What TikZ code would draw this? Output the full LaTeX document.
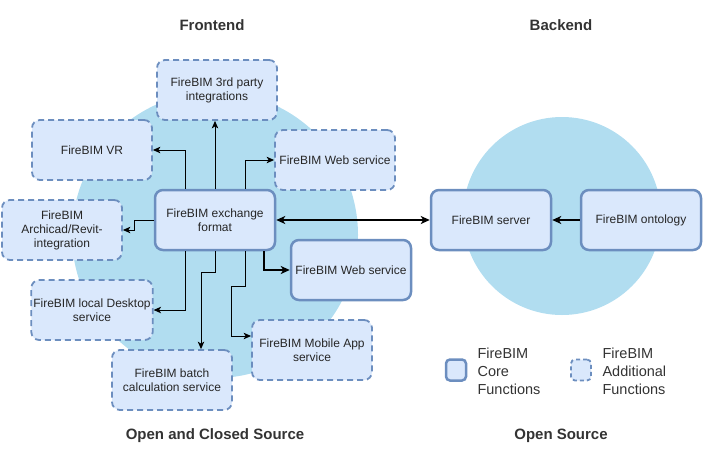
\documentclass[tikz,border=0pt]{standalone}
\usepackage{fontspec}
\setmainfont{Liberation Sans}
\usetikzlibrary{arrows.meta}
\definecolor{boxfill}{HTML}{DAE8FC}
\definecolor{boxline}{HTML}{6C8EBF}
\definecolor{zone}{HTML}{B1DDF0}
\begin{document}
\begin{tikzpicture}[
        x=1pt, y=-1pt,
        core/.style={draw=boxline, fill=boxfill, line width=2.5pt, rounded corners=8pt, minimum width=120pt, minimum height=60pt, align=center, inner sep=2pt, text=black!85, font=\fontsize{12}{14}\selectfont}, % Core box styling
        extra/.style={core, line width=1.8pt, dash pattern=on 6pt off 4pt}, % Additional box styling
        heading/.style={font=\fontsize{15}{18}\selectfont\bfseries, text=black!80}, % Titles
        legendtext/.style={anchor=west, align=left, text=black!80, font=\fontsize{14.5}{18}\selectfont},
        smalltip/.tip={Stealth[length=7.5pt, width=6.5pt, inset=2pt]},
        bigtip/.tip={Stealth[length=9pt, width=8pt, inset=2.5pt]},
        link/.style={-smalltip, line width=1pt}, % Arrow styling
        biglink/.style={-bigtip, line width=1.8pt}
        ]
        \useasboundingbox (0,0) rectangle (703,461);

        % Background zones
        \fill[zone] (215,235) circle (143pt);
        \fill[zone] (562,216) circle (99pt);

        % Define nodes
        \node (party) [extra] at (217,90) {FireBIM 3rd party\\integrations};
        \node (vr) [extra] at (92,150) {FireBIM VR};
        \node (webtop) [extra] at (335,160) {FireBIM Web service};
        \node (exchange) [core] at (215,220) {FireBIM exchange\\format};
        \node (archicad) [extra] at (62,230) {FireBIM\\Archicad/Revit-\\integration};
        \node (web) [core] at (351,270) {FireBIM Web service};
        \node (desktop) [extra] at (92,310) {FireBIM local Desktop\\service};
        \node (batch) [extra] at (172,380) {FireBIM batch\\calculation service};
        \node (mobile) [extra] at (312,350) {FireBIM Mobile App\\service};
        \node (server) [core] at (491,220) {FireBIM server};
        \node (ontology) [core] at (641,220) {FireBIM ontology};

        % Draw arrows
        \draw[link] ([xshift=-30pt]exchange.north) |- (vr.east);
        \draw[link] (exchange.north) -- (exchange.north |- party.south);
        \draw[link] ([xshift=30pt]exchange.north) |- (webtop.west);
        \draw[link] (exchange.west) -- ++(-19,0) |- (archicad.east);
        \draw[link] ([xshift=-30pt]exchange.south) |- (desktop.east);
        \draw[link] (exchange.south) -- ++(0,21) -| ([xshift=29pt]batch.north);
        \draw[link] ([xshift=30pt]exchange.south) -- ++(0,35) -- ++(-14,0) |- ([yshift=14pt]mobile.west);
        \draw[biglink] ([xshift=49pt]exchange.south) |- (web.west);
        \draw[biglink, bigtip-bigtip] (exchange.east) -- (server.west);
        \draw[biglink] (ontology.west) -- (server.east);

        % Titles
        \node (front) [heading] at (212,25) {Frontend};
        \node (back) [heading] at (561,25) {Backend};
        \node (mixed) [heading] at (215,436) {Open and Closed Source};
        \node (open) [heading] at (561,436) {Open Source};

        % Legend
        \node (corekey) [core, minimum width=20pt, minimum height=21pt, rounded corners=4pt] at (456,370) {};
        \node (corelabel) [legendtext] at (474,371) {FireBIM\\Core\\Functions};
        \node (extrakey) [extra, minimum width=20pt, minimum height=21pt, rounded corners=4pt, dash pattern=on 4pt off 3pt] at (581,370) {};
        \node (extralabel) [legendtext] at (599,371) {FireBIM\\Additional\\Functions};

    \end{tikzpicture}
\end{document}
